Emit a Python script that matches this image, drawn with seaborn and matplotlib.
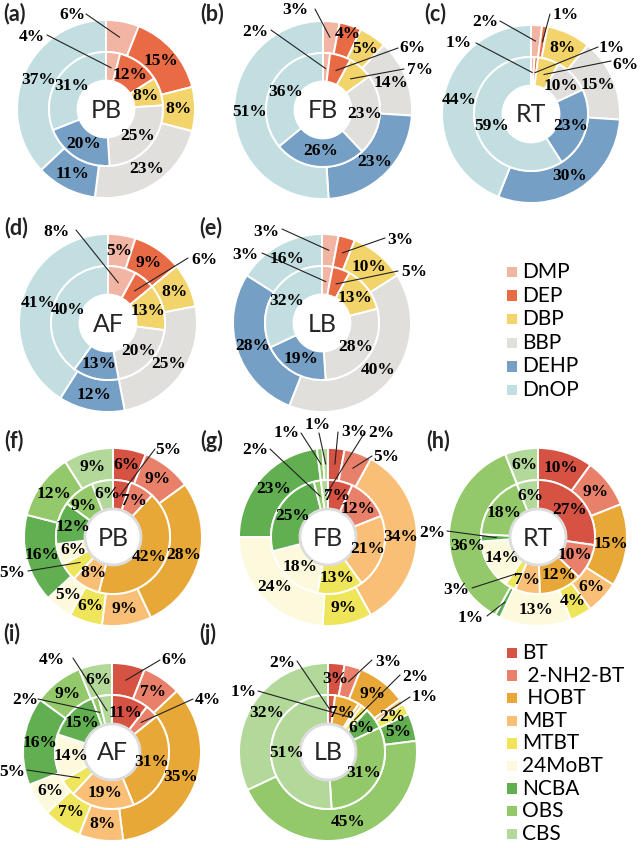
import numpy as np
import matplotlib
matplotlib.use("Agg")
import matplotlib.pyplot as plt
import seaborn as sns
from matplotlib.patches import Circle

sns.set_theme(style="white")
plt.rcParams['font.family'] = ['Lato', 'DejaVu Sans']

# ---- data (percent shares, clockwise from 12 o'clock) ----
pae_names = ["DMP", "DEP", "DBP", "BBP", "DEHP", "DnOP"]
bt_names = ["BT", " 2-NH2-BT", " HOBT", "MBT", "MTBT", "24MoBT", "NCBA", "OBS", "CBS"]

pae_pb_out = [6, 15, 8, 23, 11, 37]
pae_pb_in = [4, 12, 8, 25, 20, 31]
pae_fb_out = [3, 4, 5, 14, 23, 51]
pae_fb_in = [2, 6, 7, 23, 26, 36]
pae_rt_out = [2, 1, 8, 15, 30, 44]
pae_rt_in = [1, 1, 6, 10, 23, 59]
pae_af_out = [5, 9, 8, 25, 12, 41]
pae_af_in = [8, 6, 13, 20, 13, 40]
pae_lb_out = [3, 3, 10, 40, 28, 16]
pae_lb_in = [3, 5, 13, 28, 19, 32]

bt_pb_out = [6, 9, 28, 9, 6, 5, 16, 12, 9]
bt_pb_in = [5, 7, 42, 8, 5, 6, 12, 9, 6]
bt_fb_out = [3, 5, 0, 34, 9, 24, 23, 1, 1]
bt_fb_in = [7, 12, 0, 21, 13, 18, 25, 2, 2]
bt_rt_out = [10, 9, 15, 6, 4, 13, 1, 36, 6]
bt_rt_in = [27, 10, 12, 7, 3, 14, 2, 18, 6]
bt_af_out = [6, 7, 35, 8, 7, 6, 16, 9, 6]
bt_af_in = [11, 4, 31, 19, 5, 14, 15, 2, 4]
bt_lb_out = [3, 3, 9, 1, 2, 0, 5, 45, 32]
bt_lb_in = [2, 0, 7, 1, 2, 0, 6, 31, 51]

pae_colors = sns.color_palette(["#F2B5A3", "#E96B45", "#F2D46B", "#E0DFDC", "#769FC5", "#C3DEE1"])
bt_colors = sns.color_palette(["#D65243", "#E8806A", "#E8A838", "#F9BF76", "#EEE55A",
                               "#FDF9DC", "#62AF52", "#93C96A", "#B3D99A"])

# ---- layout (pixel coords) ----
R_OUT, R_MID, R_HOLE = 89, 57, 28
panels = [
    dict(tag="(a)", tag_xy=(15, 14), site="PB", c=(106, 109), out=pae_pb_out, inn=pae_pb_in, col=pae_colors,
         calls=[("out", 0, 72, 15, 86, 14), ("in", 0, 32, 37, 47, 35)]),
    dict(tag="(b)", tag_xy=(212, 14), site="FB", c=(323, 110), out=pae_fb_out, inn=pae_fb_in, col=pae_colors,
         calls=[("out", 0, 295, 10, 315, 9), ("in", 0, 255, 32, 271, 30),
                ("in", 1, 412, 48, 398, 48), ("in", 2, 420, 70, 404, 69)],
         nudge={("out", 1): (2, -7), ("out", 2): (1, -1)}),
    dict(tag="(c)", tag_xy=(435, 14), site="RT", c=(531, 114), out=pae_rt_out, inn=pae_rt_in, col=pae_colors,
         calls=[("out", 0, 485, 22, 500, 21), ("out", 1, 566, 15, 550, 14), ("in", 0, 459, 43, 476, 43),
                ("in", 1, 612, 48, 598, 47), ("in", 2, 625, 65, 611, 61)]),
    dict(tag="(d)", tag_xy=(16, 228), site="AF", c=(108, 323), out=pae_af_out, inn=pae_af_in, col=pae_colors,
         calls=[("in", 0, 57, 232, 76, 230), ("in", 1, 204, 260, 188, 258)]),
    dict(tag="(e)", tag_xy=(211, 228), site="LB", c=(322, 323), out=pae_lb_out, inn=pae_lb_in, col=pae_colors,
         calls=[("out", 0, 266, 232, 282, 229), ("in", 0, 245, 255, 262, 253),
                ("out", 1, 400, 240, 385, 238), ("in", 1, 414, 272, 398, 271)]),
    dict(tag="(f)", tag_xy=(14, 441), site="PB", c=(113, 537), out=bt_pb_out, inn=bt_pb_in, col=bt_colors,
         calls=[("in", 0, 168, 450, 155, 449), ("in", 4, 12, 573, 28, 571)],
         nudge={("in", 7): (-4, 2), ("in", 8): (2, -2)}),
    dict(tag="(g)", tag_xy=(212, 441), site="FB", c=(328, 537), out=bt_fb_out, inn=bt_fb_in, col=bt_colors,
         calls=[("out", 0, 354, 432, 338, 432), ("out", 1, 386, 457, 372, 456), ("out", 7, 287, 433, 301, 433),
                ("out", 8, 318, 425, 319, 433), ("in", 7, 255, 450, 270, 449), ("in", 8, 381, 433, 365, 432)]),
    dict(tag="(h)", tag_xy=(438, 441), site="RT", c=(538, 537), out=bt_rt_out, inn=bt_rt_in, col=bt_colors,
         calls=[("out", 6, 471, 618, 487, 616), ("in", 4, 456, 590, 472, 588), ("in", 6, 432, 533, 447, 531)],
         nudge={("in", 2): (4, 0), ("in", 3): (-3, 2), ("out", 7): (3, 14)}),
    dict(tag="(i)", tag_xy=(12, 634), site="AF", c=(112, 752), out=bt_af_out, inn=bt_af_in, col=bt_colors,
         calls=[("out", 0, 174, 660, 160, 660), ("in", 1, 208, 700, 193, 699), ("in", 4, 12, 772, 27, 770),
                ("in", 7, 25, 700, 38, 699), ("in", 8, 52, 660, 73, 658)]),
    dict(tag="(j)", tag_xy=(208, 634), site="LB", c=(328, 752), out=bt_lb_out, inn=bt_lb_in, col=bt_colors,
         calls=[("out", 1, 388, 662, 372, 660), ("out", 3, 425, 697, 410, 697), ("in", 0, 282, 663, 297, 661),
                ("in", 3, 244, 692, 258, 691), ("in", 4, 415, 677, 400, 675)]),
]

pct_font = dict(family=["Liberation Serif"], fontweight="bold", fontsize=12.5, color="black")

fig = plt.figure(figsize=(6.41, 8.48), dpi=100)
ax = fig.add_axes([0, 0, 1, 1])


def ring(vals, cols, cx, cy, r, w):
    keep = [i for i, v in enumerate(vals) if v > 0]
    # inverted y axis: start at screen top, go clockwise on screen
    ax.pie([vals[i] for i in keep], colors=[cols[i] for i in keep], radius=r, center=(cx, cy),
           startangle=-90, counterclock=True, frame=True,
           wedgeprops=dict(width=w, edgecolor="white", linewidth=1.4))
    v = np.array(vals, dtype=float)
    mids = (np.cumsum(v) - v / 2) / v.sum() * 2 * np.pi
    return mids


for k, p in enumerate(panels):
    cx, cy = p["c"]
    mids_o = ring(p["out"], p["col"], cx, cy, R_OUT, R_OUT - R_MID)
    mids_i = ring(p["inn"], p["col"], cx, cy, R_MID, R_MID - R_HOLE)
    hole_edge = "#dcdcdc" if k >= 5 else "white"
    ax.add_patch(Circle((cx, cy), R_HOLE, facecolor="white", edgecolor=hole_edge, lw=2, zorder=3))
    ax.text(cx, cy + 1, p["site"], ha="center", va="center", fontsize=18, zorder=4)
    ax.text(p["tag_xy"][0], p["tag_xy"][1], p["tag"], ha="center", va="center",
            fontsize=15.5, fontweight="bold", color="#222222")

    calls = {(c[0], c[1]): c[2:] for c in p["calls"]}
    nudge = p.get("nudge", {})
    for name, vals, mids, rr in (("out", p["out"], mids_o, (R_OUT + R_MID) / 2),
                                 ("in", p["inn"], mids_i, (R_MID + R_HOLE) / 2 - 1)):
        for i, v in enumerate(vals):
            if v <= 0:
                continue
            axp = cx + rr * np.sin(mids[i])
            ayp = cy - rr * np.cos(mids[i])
            if (name, i) in calls:
                tx, ty, lx, ly = calls[(name, i)]
                ax.plot([lx, axp], [ly, ayp], color="#222222", lw=0.8, zorder=5)
                ax.text(tx, ty, f"{v}%", ha="center", va="center", zorder=6, **pct_font)
            else:
                dx, dy = nudge.get((name, i), (0, 0))
                ax.text(axp + dx, ayp + dy, f"{v}%", ha="center", va="center", zorder=6, **pct_font)

# ---- legends ----
for names, cols, x0, y0, dy in ((pae_names, pae_colors, 512, 272, 23.6),
                                (bt_names, bt_colors, 512, 653, 22.6)):
    ys = y0 + dy * np.arange(len(names))
    ax.scatter(np.full(len(names), x0), ys, marker="s", s=55, c=cols, linewidths=0, zorder=5)
    for nm, y in zip(names, ys):
        ax.text(x0 + 10, y, nm, ha="left", va="center", fontsize=15, color="black")

ax.set_xlim(0, 641)
ax.set_ylim(848, 0)
ax.set_aspect("equal")
ax.axis("off")

fig.savefig("out.png", dpi=100)
